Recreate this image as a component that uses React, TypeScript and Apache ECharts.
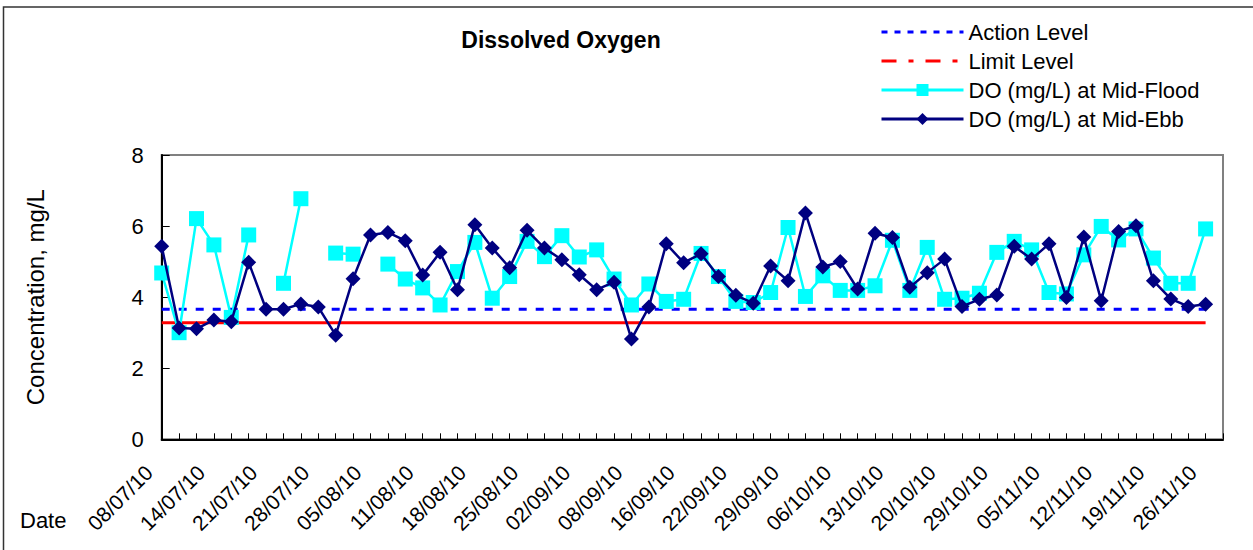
import React, { useEffect, useRef } from "react";
import * as echarts from "echarts";

const dates = [
  "08/07/10", "10/07/10", "12/07/10", "14/07/10", "16/07/10", "19/07/10", "21/07/10", "23/07/10", "26/07/10", "28/07/10",
  "30/07/10", "02/08/10", "05/08/10", "07/08/10", "09/08/10", "11/08/10", "13/08/10", "16/08/10", "18/08/10", "20/08/10",
  "23/08/10", "25/08/10", "27/08/10", "30/08/10", "02/09/10", "04/09/10", "06/09/10", "08/09/10", "10/09/10", "13/09/10",
  "16/09/10", "18/09/10", "20/09/10", "22/09/10", "24/09/10", "27/09/10", "29/09/10", "01/10/10", "04/10/10", "06/10/10",
  "08/10/10", "11/10/10", "13/10/10", "15/10/10", "18/10/10", "20/10/10", "22/10/10", "26/10/10", "29/10/10", "01/11/10",
  "03/11/10", "05/11/10", "08/11/10", "10/11/10", "12/11/10", "15/11/10", "17/11/10", "19/11/10", "22/11/10", "24/11/10",
  "26/11/10",
];

const midFlood = [
  4.68, 3.0, 6.21, 5.47, 3.43, 5.75, null, 4.39, 6.77, null,
  5.24, 5.21, null, 4.93, 4.51, 4.26, 3.78, 4.72, 5.54, 3.97,
  4.58, 5.57, 5.14, 5.73, 5.13, 5.33, 4.51, 3.78, 4.37, 3.88,
  3.94, 5.23, 4.58, 3.88, 3.85, 4.13, 5.96, 4.02, 4.6, 4.19,
  4.19, 4.32, 5.6, 4.19, 5.4, 3.94, 3.97, 4.11, 5.26, 5.57,
  5.33, 4.13, 4.09, 5.19, 5.99, 5.61, 5.92, 5.1, 4.39, 4.39, 5.92,
];

const midEbb = [
  5.43, 3.13, 3.11, 3.36, 3.31, 4.98, 3.66, 3.66, 3.81, 3.72,
  2.93, 4.52, 5.75, 5.82, 5.59, 4.62, 5.26, 4.21, 6.04, 5.38,
  4.83, 5.88, 5.38, 5.05, 4.63, 4.21, 4.42, 2.82, 3.72, 5.5,
  4.97, 5.22, 4.58, 4.05, 3.83, 4.88, 4.46, 6.37, 4.85, 5.0,
  4.23, 5.8, 5.68, 4.28, 4.69, 5.07, 3.74, 3.94, 4.06, 5.43,
  5.07, 5.5, 3.99, 5.69, 3.9, 5.85, 6.01, 4.46, 3.95, 3.74, 3.8,
];

const actionLevel = 3.66;
const limitLevel = 3.28;
const yTicks = [0, 2, 4, 6, 8];

const FONT = "Liberation Sans, Arial, sans-serif";

export default function App() {
  const ref = useRef<HTMLDivElement>(null);

  useEffect(() => {
    document.body.style.margin = "0";
    if (!ref.current) return;
    const chart = echarts.init(ref.current, undefined, { renderer: "svg" });
    const categories = [...dates, ""];
    const actionData = dates.map(() => actionLevel);
    const limitData = dates.map(() => limitLevel);

    chart.setOption({
      animation: false,
      backgroundColor: "#ffffff",
      title: {
        text: "Dissolved Oxygen",
        left: 556,
        top: 23,
        textAlign: "center",
        textStyle: { fontFamily: FONT, fontSize: 23, fontWeight: "bold", color: "#000" },
      },
      legend: {
        orient: "vertical",
        left: 880,
        top: 21,
        padding: 0,
        itemWidth: 82,
        itemHeight: 15,
        itemGap: 7,
        textStyle: { fontFamily: FONT, fontSize: 22, color: "#000" },
        data: [
          { name: "Action Level", itemStyle: { opacity: 0 }, lineStyle: { type: [6, 7], width: 3, color: "#0000ff" } },
          { name: "Limit Level", itemStyle: { opacity: 0 }, lineStyle: { type: [15, 12, 5, 12], width: 3, color: "#ff0000" } },
          { name: "DO (mg/L) at Mid-Flood", lineStyle: { width: 3 } },
          { name: "DO (mg/L) at Mid-Ebb", lineStyle: { width: 3 } },
        ],
      },
      graphic: [
        {
          type: "rect",
          shape: { x: 3.5, y: 7, width: 1300, height: 600 },
          style: { fill: "none", stroke: "#333", lineWidth: 1.5 },
          silent: true,
        },
        {
          type: "text",
          x: 20,
          y: 520,
          style: {
            text: "Date",
            font: `22px ${FONT}`,
            fill: "#000",
            textVerticalAlign: "middle",
          },
        },
      ],
      grid: {
        left: 161.7,
        right: 30,
        top: 155,
        bottom: 110.7,
        show: true,
        borderColor: "#808080",
        borderWidth: 2,
        backgroundColor: "transparent",
      },
      xAxis: {
        type: "category",
        boundaryGap: false,
        data: categories,
        axisLine: { show: true, lineStyle: { color: "#000", width: 2 } },
        axisTick: { show: true, inside: true, interval: 0, length: 6, lineStyle: { color: "#000", width: 1 } },
        axisLabel: {
          interval: 2,
          rotate: 45,
          margin: 17,
          padding: [0, 18, 0, 0],
          fontFamily: FONT,
          fontSize: 21,
          color: "#000",
        },
        splitLine: { show: false },
      },
      yAxis: {
        type: "value",
        min: yTicks[0],
        max: yTicks[yTicks.length - 1],
        interval: 2,
        name: "Concentration, mg/L",
        nameLocation: "middle",
        nameGap: 114,
        nameRotate: 90,
        nameTextStyle: { fontFamily: FONT, fontSize: 24, color: "#000" },
        axisLine: { show: true, lineStyle: { color: "#000", width: 2 } },
        axisTick: { show: true, inside: true, length: 8, lineStyle: { color: "#000", width: 1 } },
        axisLabel: { margin: 18, fontFamily: FONT, fontSize: 22, color: "#000" },
        splitLine: { show: false },
      },
      series: [
        {
          name: "Action Level",
          type: "line",
          data: actionData,
          symbol: "none",
          lineStyle: { color: "#0000ff", width: 3, type: [8, 9] },
          itemStyle: { color: "#0000ff" },
          z: 1,
        },
        {
          name: "Limit Level",
          type: "line",
          data: limitData,
          symbol: "none",
          lineStyle: { color: "#ff0000", width: 3, type: "solid" },
          itemStyle: { color: "#ff0000" },
          z: 1,
        },
        {
          name: "DO (mg/L) at Mid-Flood",
          type: "line",
          data: midFlood,
          connectNulls: false,
          showAllSymbol: true,
          symbol: "rect",
          symbolSize: 15,
          lineStyle: { color: "#00ffff", width: 2.5 },
          itemStyle: { color: "#00ffff" },
          z: 2,
        },
        {
          name: "DO (mg/L) at Mid-Ebb",
          type: "line",
          data: midEbb,
          showAllSymbol: true,
          symbol: "diamond",
          symbolSize: 15,
          lineStyle: { color: "#000080", width: 2.5 },
          itemStyle: { color: "#000080" },
          z: 3,
        },
      ],
    });

    return () => chart.dispose();
  }, []);

  return <div ref={ref} style={{ width: 1253, height: 550 }} />;
}
